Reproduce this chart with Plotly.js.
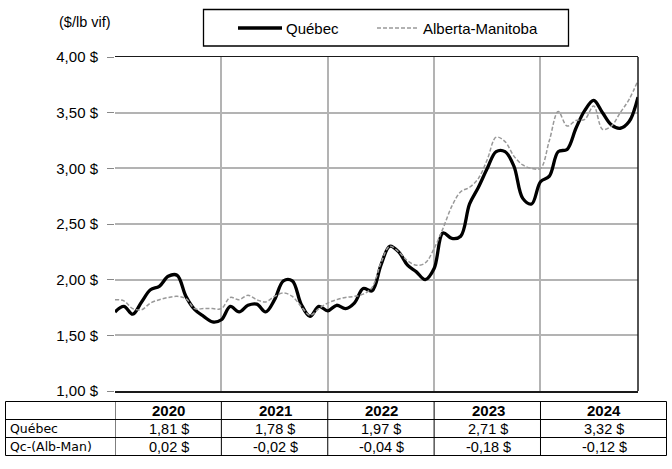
<!DOCTYPE html>
<html>
<head>
<meta charset="utf-8">
<script src="https://cdn.plot.ly/plotly-3.0.1.min.js"></script>
<style>html,body{margin:0;padding:0;background:#fff;}#chart{width:672px;height:469px;}</style>
</head>
<body>
<div id="chart"></div>
<script>
// Monthly index 0..59 (Jan 2020 .. Dec 2024)
const months = Array.from({length: 60}, (_, i) => i);
const yearTicks = [0, 12, 24, 36, 48];

const quebec = [
  1.71, 1.76, 1.69, 1.80, 1.91, 1.94, 2.03, 2.04, 1.85, 1.73, 1.67, 1.62,
  1.64, 1.76, 1.71, 1.77, 1.78, 1.71, 1.82, 1.99, 1.99, 1.78, 1.67, 1.76,
  1.72, 1.77, 1.74, 1.79, 1.92, 1.90, 2.13, 2.30, 2.25, 2.13, 2.07, 2.00,
  2.10, 2.42, 2.37, 2.39, 2.68, 2.83, 3.00, 3.15, 3.15, 3.02, 2.73, 2.68,
  2.88, 2.93, 3.15, 3.17, 3.36, 3.52, 3.61, 3.50, 3.39, 3.36, 3.42, 3.64
];
const albertaManitoba = [
  1.82, 1.81, 1.74, 1.73, 1.79, 1.82, 1.84, 1.85, 1.83, 1.74, 1.74, 1.74,
  1.74, 1.84, 1.82, 1.86, 1.82, 1.80, 1.85, 1.88, 1.85, 1.76, 1.68, 1.74,
  1.79, 1.82, 1.84, 1.85, 1.87, 1.93, 2.15, 2.30, 2.25, 2.17, 2.13, 2.15,
  2.28, 2.46, 2.66, 2.79, 2.83, 2.91, 3.08, 3.28, 3.24, 3.11, 3.03, 3.00,
  3.00, 3.25, 3.51, 3.38, 3.43, 3.44, 3.56, 3.35, 3.38, 3.50, 3.62, 3.79
];

const seriesNames = ['Québec', 'Alberta-Manitoba'];
const years = ['2020', '2021', '2022', '2023', '2024'];
const quebecAnnual = [1.81, 1.78, 1.97, 2.71, 3.32];
const diffAnnual = [0.02, -0.02, -0.04, -0.18, -0.12];
const rowLabels = ['Québec', 'Qc-(Alb-Man)'];

const fmt = v => v.toFixed(2).replace('.', ',') + ' $';

const ARIAL = 'Liberation Sans, Arial, sans-serif';
const DEJAVU = 'DejaVu Sans, Verdana, sans-serif';

// pixel -> paper helpers (margins l=5,r=5,t=5,b=5 on 672x469)
const PW = 662, PH = 459;
const px = X => (X - 5) / PW;
const py = Y => (464 - Y) / PH;

const traces = [
  {
    type: 'scatter', mode: 'lines', name: seriesNames[0],
    x: months, y: quebec,
    line: {color: '#000000', width: 3.3, shape: 'spline', smoothing: 1}
  },
  {
    type: 'scatter', mode: 'lines', name: seriesNames[1],
    x: months, y: albertaManitoba,
    line: {color: '#999999', width: 1.5, dash: '4px,2px', shape: 'spline', smoothing: 1}
  }
];

const shapes = [
  // right frame
  {type: 'line', xref: 'x domain', yref: 'y domain', x0: 1, x1: 1, y0: 0, y1: 1,
   line: {color: '#1a1a1a', width: 1.5}},
  // legend box
  {type: 'rect', xref: 'paper', yref: 'paper', x0: px(203.5), x1: px(568.5), y0: py(46), y1: py(9.5),
   line: {color: '#000', width: 1.3}, fillcolor: '#fff'},
  // legend samples
  {type: 'line', xref: 'paper', yref: 'paper', x0: px(238), x1: px(282), y0: py(28), y1: py(28),
   line: {color: '#000', width: 3.3}},
  {type: 'line', xref: 'paper', yref: 'paper', x0: px(377), x1: px(418), y0: py(28), y1: py(28),
   line: {color: '#999999', width: 1.5, dash: '4px,2px'}},
  // table outer box
  {type: 'rect', xref: 'paper', yref: 'paper', x0: px(5.5), x1: px(666.5), y0: py(455.5), y1: py(401.5),
   line: {color: '#000', width: 1}},
  {type: 'line', xref: 'paper', yref: 'paper', x0: px(5.5), x1: px(666.5), y0: py(419.5), y1: py(419.5),
   line: {color: '#000', width: 1}},
  {type: 'line', xref: 'paper', yref: 'paper', x0: px(5.5), x1: px(666.5), y0: py(437.5), y1: py(437.5),
   line: {color: '#000', width: 1}}
];
// table column separators aligned with the year gridlines
yearTicks.forEach(t => shapes.push({
  type: 'line', xref: 'x', yref: 'paper', x0: t, x1: t, y0: py(455.5), y1: py(401.5),
  line: {color: '#000', width: 1}
}));

const annotations = [
  {text: '($/lb vif)', xref: 'paper', yref: 'paper', x: px(85), y: py(22),
   xanchor: 'center', yanchor: 'middle', showarrow: false,
   font: {family: ARIAL, size: 14.5, color: '#000'}},
  {text: seriesNames[0], xref: 'paper', yref: 'paper', x: px(284), y: py(28),
   xanchor: 'left', yanchor: 'middle', showarrow: false,
   font: {family: ARIAL, size: 15, color: '#000'}},
  {text: seriesNames[1], xref: 'paper', yref: 'paper', x: px(421), y: py(28),
   xanchor: 'left', yanchor: 'middle', showarrow: false,
   font: {family: ARIAL, size: 15, color: '#000'}}
];

// table texts
const colCentersX = [168.5, 275, 381.5, 488, 604];
const rowY = [428.5, 446.5];
years.forEach((yr, i) => {
  annotations.push({text: '<b>' + yr + '</b>', xref: 'paper', yref: 'paper',
    x: px(colCentersX[i]), y: py(410.5), xanchor: 'center', yanchor: 'middle', showarrow: false,
    font: {family: ARIAL, size: 15, color: '#000'}});
  [quebecAnnual[i], diffAnnual[i]].forEach((v, r) => annotations.push({
    text: fmt(v), xref: 'paper', yref: 'paper',
    x: px(colCentersX[i]), y: py(rowY[r]), xanchor: 'center', yanchor: 'middle', showarrow: false,
    font: {family: ARIAL, size: 14.5, color: '#000'}}));
});
rowLabels.forEach((lab, r) => annotations.push({
  text: lab, xref: 'paper', yref: 'paper', x: px(8), y: py(rowY[r]),
  xanchor: 'left', yanchor: 'middle', showarrow: false,
  font: {family: DEJAVU, size: 12.5, color: '#000'}}));

const layout = {
  width: 672, height: 469,
  margin: {l: 5, r: 5, t: 5, b: 5},
  paper_bgcolor: '#ffffff', plot_bgcolor: '#ffffff',
  separators: ', ',
  font: {family: ARIAL, size: 14.5, color: '#000'},
  showlegend: false,
  xaxis: {
    domain: [px(115), px(638)],
    range: [0, 59],
    tickvals: yearTicks,
    showticklabels: false,
    ticks: '',
    showgrid: true, gridcolor: '#b3b3b3', gridwidth: 2,
    showline: true, mirror: true, linecolor: '#1a1a1a', linewidth: 1.5,
    zeroline: false, fixedrange: true
  },
  yaxis: {
    domain: [py(391), py(57)],
    range: [1, 4],
    dtick: 0.5,
    tickformat: '.2f',
    ticksuffix: ' $',
    ticks: 'outside', ticklen: 7, tickcolor: '#888888', tickwidth: 1,
    ticklabelstandoff: 6,
    tickfont: {family: ARIAL, size: 15, color: '#000'},
    showgrid: true, gridcolor: '#b3b3b3', gridwidth: 2,
    showline: false, zeroline: false, fixedrange: true
  },
  shapes: shapes,
  annotations: annotations
};

Plotly.newPlot('chart', traces, layout, {displayModeBar: false, staticPlot: true});
</script>
</body>
</html>
